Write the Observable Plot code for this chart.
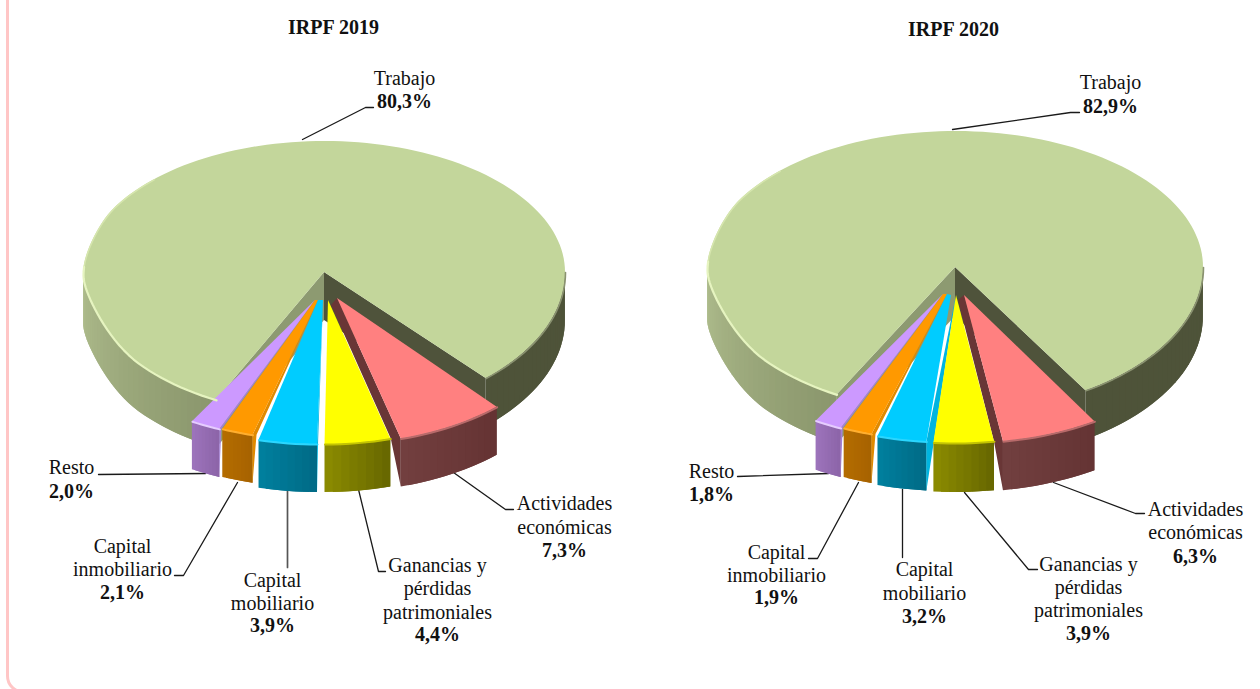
<!DOCTYPE html>
<html lang="es">
<head>
<meta charset="utf-8">
<title>IRPF 2019 y 2020</title>
<style>html,body{margin:0;padding:0;background:#fff;overflow:hidden}svg{display:block}</style>
<script src="https://cdn.jsdelivr.net/npm/d3@7"></script>
<script src="https://cdn.jsdelivr.net/npm/@observablehq/plot@0.6"></script>
</head>
<body>
<div id="chart"></div>
<script>
// ---- data ----
const categories = ["Ganancias", "Actividades", "Trabajo", "Resto", "Inmobiliario", "Mobiliario"];
const labelLines = [
  ["Ganancias y", "pérdidas", "patrimoniales"],
  ["Actividades", "económicas"],
  ["Trabajo"],
  ["Resto"],
  ["Capital", "inmobiliario"],
  ["Capital", "mobiliario"]
];
const values2019 = [4.4, 7.3, 80.3, 2.0, 2.1, 3.9];
const values2020 = [3.9, 6.3, 82.9, 1.8, 1.9, 3.2];

// ---- styles ----
const topColors  = ["#ffff00", "#ff8080", "#c3d69b", "#cc99ff", "#ff9900", "#00ccff"];
const wallFrom   = ["#8c8c00", "#723f3f", "#b0be8e", "#9d74bc", "#b56d00", "#00809f"];
const wallTo     = ["#666600", "#643333", "#8a966c", "#8c64a8", "#a66200", "#006a85"];
const stripColor = [null, "#693636", null, "#a37fd6", "#e08a00", "#00b4e0"];
const rimColors  = ["#c4c400", "#b86a6a", "#e6f4c0", "#e6ccff", "#ffae2e", "#2ad6ff"];
const faceLeft = "#8d9a71", faceRight = "#4f533b", wallRight = "#4e5339", rimRight = "#8a9270", rimUpper = "#d6e6ae";

// ---- layout (page pixels) ----
const layout2019 = {
  rx: 241, ryTop: 131, ry: 143, rot: 0, depth: 48, mainExt: 2.2,
  center: [324, 272],
  tips:   [[328,300],[337,298],[324,272],[315,300],[318,300],[323,300]],
  arcs:   [[324.5,300],[335,300],[324,272],[308,295],[311,295],[317,300]],
  strips: [0, -10, 0, 2, 4, 1],
  stripTips: [null, [331,305], null, null, null, null],
  title: {text: "IRPF 2019", x: 333, y: 27},
  labels: [
    {x: 437, ys: [565, 588, 612, 634]},
    {x: 564, ys: [503, 527, 550]},
    {x: 404, ys: [78, 101]},
    {x: 71,  ys: [467, 491]},
    {x: 122, ys: [546, 569, 592]},
    {x: 272, ys: [580, 603, 625]}
  ],
  leaders: [
    [[358,489],[378,571],[385,571]],
    [[453,472],[505,509],[513,509]],
    [[302,139],[365,107],[373,107]],
    [[98,474],[205,473]],
    [[174,575],[183,575],[237,482]],
    [[287,489],[287,567]]
  ]
};
const layout2020 = {
  rx: 248, ryTop: 136, ry: 145, rot: -5, depth: 49, mainExt: 1.3,
  center: [955, 267],
  tips:   [[956,295],[964,295],[955,267],[943,294],[947,294],[951,295]],
  arcs:   [[955,297],[964,297],[955,267],[939,294],[942,294],[948,296]],
  strips: [0, -9, 0, 2, 4, 7.5],
  stripTips: [null, [958,300], null, null, null, [956,295]],
  title: {text: "IRPF 2020", x: 953, y: 29},
  labels: [
    {x: 1088, ys: [564, 587, 610, 633]},
    {x: 1195, ys: [509, 532, 556]},
    {x: 1110, ys: [82, 106]},
    {x: 711,  ys: [471, 494]},
    {x: 776,  ys: [552, 575, 597]},
    {x: 924,  ys: [569, 593, 616]}
  ],
  leaders: [
    [[964,492],[1028,569],[1037,569]],
    [[1053,482],[1135,513],[1144,513]],
    [[952,129],[1070,112],[1079,112]],
    [[737,476],[828,473]],
    [[808,558],[817,558],[858,482]],
    [[902,489],[902,557]]
  ]
};

// ---- geometry derived from the values ----
const rad = d => d * Math.PI / 180;
const MAIN = categories.indexOf("Trabajo");
const RESTO = categories.indexOf("Resto"), INMO = categories.indexOf("Inmobiliario"), MOBI = categories.indexOf("Mobiliario");
const leftNeighbour = {[INMO]: RESTO, [MOBI]: INMO};

function pointOnRim(c, L, deg, isMain) {
  const s = Math.sin(rad(deg)), k = Math.cos(rad(deg));
  const ry = isMain && k < 0 ? L.ryTop : (isMain ? L.ry : L.ry + 1);
  let y = c[1] + ry * k;
  if (isMain && s < 0) {
    // the far left of the large sector is slightly tighter in the perspective view
    const ak = Math.abs(k), t = Math.min(1, ak / (k > 0 ? 0.65 : 0.5));
    const squeeze = (k > 0 ? 0.7 : 0.75) + (k > 0 ? 0.3 : 0.25) * t * t * (3 - 2 * t);
    y = c[1] + ry * k * squeeze + 3 * Math.pow(1 - ak, 8);
  }
  return [c[0] + L.rx * s, y];
}
function arcPoints(c, L, a0, a1, isMain) {
  const n = Math.max(6, Math.ceil(Math.abs(a1 - a0) / 2));
  return d3.range(n + 1).map(i => pointOnRim(c, L, a0 + (a1 - a0) * i / n, isMain));
}

function build(values, L, prefix) {
  const polys = [], rims = [];
  const add = (pts, fill) => polys.push({id: prefix + polys.length, pts, fill});
  const down = (p, d) => [p[0], p[1] + d];
  // each strip overlaps the next one, which is painted over it, so no seams show
  const wallSegments = (c, a0, a1, isMain, colorAt) => {
    const n = Math.max(8, Math.ceil(Math.abs(a1 - a0) / 2));
    for (let i = 0; i < n; ++i) {
      const p = pointOnRim(c, L, a0 + (a1 - a0) * i / n, isMain);
      const q = pointOnRim(c, L, a0 + (a1 - a0) * Math.min(n, i + 2) / n, isMain);
      add([p, q, down(q, L.depth), down(p, L.depth)], colorAt((i + .5) / n));
    }
  };
  const spans = [];
  let a = L.rot;
  values.forEach(v => { spans.push([a, a + v * 3.6]); a += v * 3.6; });

  // large sector first, behind the pulled-out slices
  const [m0, m1raw] = spans[MAIN];
  const m1 = m1raw + L.mainExt;
  const c = L.center;
  const pStart = pointOnRim(c, L, m0, true), pEnd = pointOnRim(c, L, m1, true);
  wallSegments(c, m0, 90, true, () => wallRight);
  wallSegments(c, 270, m1, true, d3.interpolateRgb(wallFrom[MAIN], wallTo[MAIN]));
  add([c, pEnd, down(pEnd, L.depth), down(c, L.depth)], faceLeft);
  add([c, pStart, down(pStart, L.depth), down(c, L.depth)], faceRight);
  add([c, ...arcPoints(c, L, m0, m1, true)], topColors[MAIN]);
  rims.push({id: prefix + "r-main-up", color: rimUpper, width: 1.5, pts: arcPoints(c, L, 225, 268, true)});
  rims.push({id: prefix + "r-main-left", color: rimColors[MAIN], width: 2.2, pts: arcPoints(c, L, 266, m1, true)});
  rims.push({id: prefix + "r-main-right", color: rimRight, width: 1.6, pts: arcPoints(c, L, m0, 90, true)});

  // pulled-out slices, painted from the sides to the middle
  [RESTO, INMO, 1, MOBI, 0].forEach(i => {
    const [a0, a1] = spans[i];
    const arc = L.arcs[i], tip = L.tips[i], w = L.strips[i];
    wallSegments(arc, a0, a1, false, d3.interpolateRgb(wallFrom[i], wallTo[i]));
    if (w !== 0) {
      const corner = pointOnRim(arc, L, w < 0 ? a0 : a1, false);
      const outer = L.stripTips[i] || tip;
      const pts = i === 1
        ? [tip, corner, down(corner, L.depth), [corner[0] + w, corner[1]], outer]
        : [outer, corner, down(corner, L.depth), [corner[0] + w, corner[1]]];
      add(pts, stripColor[i]);
    }
    const outline = [tip];
    if (leftNeighbour[i] !== undefined) outline.push(L.tips[leftNeighbour[i]]);
    outline.push(...arcPoints(arc, L, a0, a1, false));
    add(outline, topColors[i]);
    rims.push({id: prefix + "r" + i, color: rimColors[i], width: 2, pts: arcPoints(arc, L, a0, a1, false)});
  });

  // polygons as fans: one edge stays on the first vertex, the other walks the outline
  const polyRows = polys.flatMap(p => p.pts.map(q => ({
    id: p.id, fill: p.fill, x1: p.pts[0][0], y1: p.pts[0][1], x2: q[0], y2: q[1]
  })));
  const rimRows = rims.flatMap(r => r.pts.map(q => ({id: r.id, color: r.color, width: r.width, x: q[0], y: q[1]})));

  const textRows = [];
  values.forEach((v, i) => {
    const lab = L.labels[i];
    const pct = v.toFixed(1).replace(".", ",") + "%";
    labelLines[i].forEach((t, j) => textRows.push({text: t, x: lab.x, y: lab.ys[j]}));
    textRows.push({text: pct, x: lab.x, y: lab.ys[labelLines[i].length], bold: true});
  });
  textRows.push({...L.title, bold: true});

  const leaderRows = L.leaders.flatMap((pts, i) => pts.map(q => ({id: prefix + i, x: q[0], y: q[1]})));
  return {polyRows, rimRows, textRows, leaderRows};
}

const parts = [build(values2019, layout2019, "a"), build(values2020, layout2020, "b")];
const polyRows = parts.flatMap(p => p.polyRows);
const rimRows = parts.flatMap(p => p.rimRows);
const leaderRows = parts.flatMap(p => p.leaderRows);
const textRows = parts.flatMap(p => p.textRows);
const heavyLeader = "a" + MOBI;

const chart = Plot.plot({
  width: 1260,
  height: 689,
  margin: 0,
  style: {background: "#fff", fontFamily: "'Liberation Serif', serif"},
  x: {domain: [0, 1260], range: [0, 1260], axis: null},
  y: {domain: [0, 689], range: [0, 689], axis: null},
  color: {type: "identity"},
  marks: [
    Plot.rect([{}], {x1: () => 7.5, x2: () => 1400, y1: () => -30, y2: () => 692, fill: "none", stroke: "#ffc6c6", strokeWidth: 3, rx: 16}),
    Plot.line(leaderRows.filter(d => d.id !== heavyLeader), {x: "x", y: "y", z: "id", stroke: "#1a1a1a", strokeWidth: 1.3, curve: "linear"}),
    Plot.line(leaderRows.filter(d => d.id === heavyLeader), {x: "x", y: "y", z: "id", stroke: "#555", strokeWidth: 1.7, curve: "linear"}),
    Plot.area(polyRows, {x1: "x1", y1: "y1", x2: "x2", y2: "y2", z: "id", fill: "fill", curve: "linear"}),
    Plot.line(rimRows, {x: "x", y: "y", z: "id", stroke: "color", strokeWidth: "width", curve: "linear"}),
    Plot.text(textRows.filter(d => !d.bold), {x: "x", y: "y", text: "text", fontSize: 20, fill: "#111", textAnchor: "middle", lineAnchor: "middle"}),
    Plot.text(textRows.filter(d => d.bold), {x: "x", y: "y", text: "text", fontSize: 20, fontWeight: "bold", fill: "#111", textAnchor: "middle", lineAnchor: "middle"})
  ]
});
document.getElementById("chart").append(chart);
</script>
</body>
</html>
